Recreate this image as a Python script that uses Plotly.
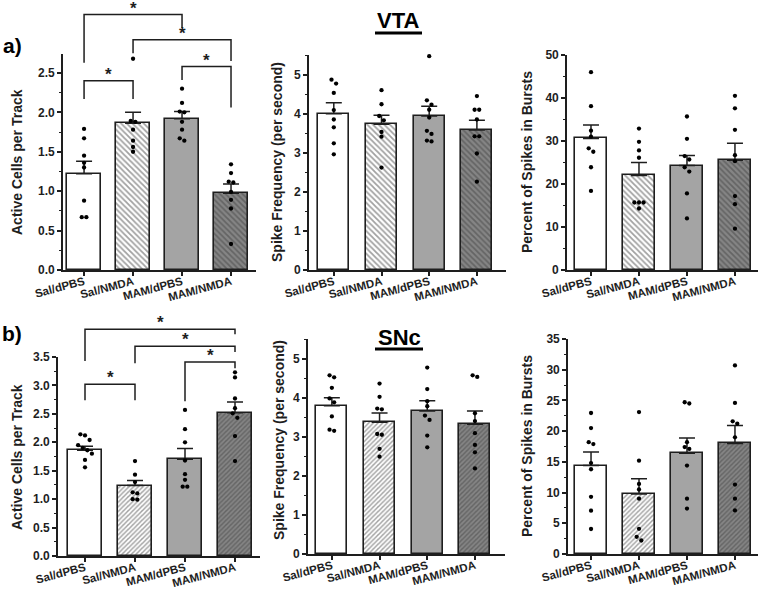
import plotly.graph_objects as go

# ---------------- data ----------------
groups = ["Sal/dPBS", "Sal/NMDA", "MAM/dPBS", "MAM/NMDA"]

# VTA
vta_cells_mean = [1.22, 1.86, 1.92, 0.975]
vta_cells_sem = [0.16, 0.14, 0.09, 0.115]
vta_cells_pts = [
    [1.79, 1.67, 1.45, 1.36, 1.30, 0.88, 0.67, 0.67],
    [2.68, 1.89, 1.88, 1.78, 1.64, 1.56, 1.50],
    [2.30, 2.12, 2.01, 2.00, 1.88, 1.78, 1.67, 1.64],
    [1.34, 1.23, 1.12, 1.11, 0.99, 0.89, 0.78, 0.33],
]
vta_freq_mean = [4.00, 3.73, 3.94, 3.58]
vta_freq_sem = [0.28, 0.23, 0.25, 0.25]
vta_freq_pts = [
    [4.87, 4.77, 4.53, 4.09, 3.85, 3.65, 3.24, 2.96],
    [4.60, 4.24, 3.94, 3.83, 3.53, 3.41, 2.62],
    [5.47, 4.34, 4.23, 4.10, 3.90, 3.56, 3.48, 3.31, 3.29],
    [4.45, 4.10, 4.10, 3.85, 3.42, 3.42, 2.98, 2.26],
]
vta_burst_mean = [30.6, 22.0, 24.3, 25.5]
vta_burst_sem = [3.1, 3.0, 2.3, 4.0]
vta_burst_pts = [
    [46.0, 38.1, 32.4, 31.0, 28.3, 27.5, 23.9, 18.4],
    [32.9, 29.8, 27.8, 26.1, 15.7, 15.7, 15.7, 14.3],
    [35.7, 30.5, 26.5, 25.7, 23.9, 22.9, 17.8, 12.0],
    [40.5, 37.6, 32.6, 26.7, 25.3, 17.2, 15.3, 9.6],
]

# SNc
snc_cells_mean = [1.86, 1.24, 1.70, 2.52]
snc_cells_sem = [0.07, 0.09, 0.19, 0.19]
snc_cells_pts = [
    [2.14, 2.12, 2.04, 1.95, 1.90, 1.86, 1.80, 1.69, 1.56],
    [1.67, 1.43, 1.30, 1.12, 1.10, 1.00, 0.99],
    [2.57, 2.23, 2.00, 1.68, 1.44, 1.34, 1.22, 1.22],
    [3.23, 3.14, 2.77, 2.60, 2.51, 2.43, 2.11, 1.67],
]
snc_freq_mean = [3.79, 3.37, 3.66, 3.32]
snc_freq_sem = [0.21, 0.24, 0.26, 0.34]
snc_freq_pts = [
    [4.57, 4.52, 4.25, 3.98, 3.88, 3.52, 3.18, 3.15],
    [4.36, 4.02, 3.72, 3.70, 3.07, 3.05, 2.69, 2.49],
    [4.77, 4.22, 3.91, 3.78, 3.54, 3.43, 3.03, 2.73],
    [4.57, 4.53, 3.60, 3.40, 3.09, 2.79, 2.60, 2.19],
]
snc_burst_mean = [14.4, 9.77, 16.4, 18.0]
snc_burst_sem = [2.2, 2.5, 2.5, 2.9]
snc_burst_pts = [
    [22.95, 20.5, 18.2, 17.9, 14.8, 13.8, 9.3, 7.05, 4.07],
    [23.1, 15.2, 11.4, 10.5, 9.0, 4.1, 2.8, 2.2],
    [24.7, 24.5, 18.2, 17.4, 17.1, 14.4, 9.0, 7.4],
    [30.7, 24.6, 21.6, 21.2, 19.0, 11.3, 9.0, 7.1],
]

# significance brackets: (group_a, group_b, bar level, left end, right end)
vta_cells_sig = [(0, 2, 3.24, 2.63, 3.07), (1, 3, 2.92, 2.75, 2.65),
                 (2, 3, 2.58, 2.41, 2.06), (0, 1, 2.40, 2.17, 2.17)]
snc_cells_sig = [(0, 3, 3.99, 3.43, 3.90), (1, 3, 3.69, 3.39, 3.59),
                 (2, 3, 3.41, 2.72, 3.30), (0, 1, 3.02, 2.74, 2.74)]

# ---------------- layout helpers ----------------
W, H = 760, 590
FONT = "Arial, Liberation Sans, sans-serif"
INK = "#1e1e1e"


def fx(px):
    return px / W


def fy(py):
    return 1 - py / H


panels = [
    dict(xpx=(63, 256), ypx=(54, 270), xr=(-0.43, 3.51), ymax=2.74, dtick=0.5, minor=0.25,
         fmt=".1f", mean=vta_cells_mean, sem=vta_cells_sem, pts=vta_cells_pts, hatch="\\",
         psize=4, title="Active Cells per Track", tpos=(17, 162), bw=0.69, sig=vta_cells_sig),
    dict(xpx=(309, 506), ypx=(55, 270), xr=(-0.52, 3.61), ymax=5.5, dtick=1, minor=0.5,
         fmt="d", mean=vta_freq_mean, sem=vta_freq_sem, pts=vta_freq_pts, hatch="\\",
         psize=4, title="Spike Frequency (per second)", tpos=(277, 162), bw=0.65, sig=[]),
    dict(xpx=(567, 758), ypx=(55, 270), xr=(-0.5, 3.48), ymax=50, dtick=10, minor=5,
         fmt="d", mean=vta_burst_mean, sem=vta_burst_sem, pts=vta_burst_pts, hatch="\\",
         psize=4, title="Percent of Spikes in Bursts", tpos=(527, 162), bw=0.65, sig=[]),
    dict(xpx=(58, 260), ypx=(357, 556), xr=(-0.54, 3.5), ymax=3.5, dtick=0.5, minor=0.25,
         fmt=".1f", mean=snc_cells_mean, sem=snc_cells_sem, pts=snc_cells_pts, hatch="/",
         psize=3.3, title="Active Cells per Track", tpos=(17, 457), bw=0.68, sig=snc_cells_sig),
    dict(xpx=(308, 505), ypx=(339, 554), xr=(-0.5, 3.63), ymax=5.5, dtick=1, minor=0.5,
         fmt="d", mean=snc_freq_mean, sem=snc_freq_sem, pts=snc_freq_pts, hatch="/",
         psize=3.3, title="Spike Frequency (per second)", tpos=(279, 440), bw=0.65, sig=[]),
    dict(xpx=(568, 758), ypx=(339, 554), xr=(-0.48, 3.48), ymax=35, dtick=5, minor=2.5,
         fmt="d", mean=snc_burst_mean, sem=snc_burst_sem, pts=snc_burst_pts, hatch="/",
         psize=3.3, title="Percent of Spikes in Bursts", tpos=(527, 446), bw=0.65, sig=[]),
]

bar_colors = ["white", "white", "#a4a4a4", "#858585"]


def swarm(values, px_per_unit, px_per_cat, gap_px=4.6):
    """Spread points with nearly equal values side by side (beeswarm)."""
    order = sorted(range(len(values)), key=lambda k: -values[k])
    offs = [0.0] * len(values)
    clusters, cur = [], [order[0]]
    for k in order[1:]:
        if abs(values[cur[-1]] - values[k]) * px_per_unit < gap_px:
            cur.append(k)
        else:
            clusters.append(cur)
            cur = [k]
    clusters.append(cur)
    step = gap_px / px_per_cat
    for c in clusters:
        n = len(c)
        for j, k in enumerate(c):
            offs[k] = (j - (n - 1) / 2) * step
    return offs


fig = go.Figure()
shapes, annotations = [], []

for n, p in enumerate(panels, start=1):
    xa = "x" if n == 1 else f"x{n}"
    ya = "y" if n == 1 else f"y{n}"
    xkey = "xaxis" if n == 1 else f"xaxis{n}"
    ykey = "yaxis" if n == 1 else f"yaxis{n}"
    x0, x1 = p["xpx"]
    ytop, ybot = p["ypx"]
    px_per_cat = (x1 - x0) / (p["xr"][1] - p["xr"][0])
    px_per_unit = (ybot - ytop) / p["ymax"]
    idx = list(range(len(groups)))

    fig.add_trace(go.Bar(
        x=idx, y=p["mean"], width=p["bw"], xaxis=xa, yaxis=ya,
        marker=dict(color=bar_colors, line=dict(color=INK, width=1.6),
                    pattern=dict(shape=["", p["hatch"], "", p["hatch"]], fgcolor="#1a1a1a",
                                 size=p["psize"], solidity=0.45, fillmode="overlay")),
        error_y=dict(type="data", array=p["sem"], arrayminus=[0] * 4, symmetric=False,
                     color=INK, thickness=1.5, width=8),
        showlegend=False, hoverinfo="skip",
    ))
    xs, ys = [], []
    for i, vals in enumerate(p["pts"]):
        offs = swarm(vals, px_per_unit, px_per_cat)
        xs += [i + o for o in offs]
        ys += vals
    fig.add_trace(go.Scatter(
        x=xs, y=ys, mode="markers", xaxis=xa, yaxis=ya, cliponaxis=False,
        marker=dict(color="black", size=4.3), showlegend=False, hoverinfo="skip",
    ))

    axis_common = dict(showline=True, linecolor=INK, linewidth=1.6, ticks="outside",
                       tickwidth=1.5, tickcolor=INK, showgrid=False, zeroline=False,
                       automargin=False)
    fig.update_layout({
        xkey: dict(domain=[fx(x0), fx(x1)], anchor=ya, range=list(p["xr"]),
                   tickmode="array", tickvals=idx, ticktext=groups, tickangle=-15,
                   ticklen=4, ticklabelstandoff=-5,
                   tickfont=dict(family=FONT, size=11.5, color=INK, weight="bold"),
                   **axis_common),
        ykey: dict(domain=[fy(ybot), fy(ytop)], anchor=xa, range=[0, p["ymax"]],
                   tick0=0, dtick=p["dtick"], tickformat=p["fmt"], ticklen=4,
                   tickfont=dict(family=FONT, size=12, color=INK, weight="bold"),
                   minor=dict(dtick=p["minor"], ticks="outside", ticklen=2.5,
                              tickwidth=1.2, tickcolor=INK),
                   **axis_common),
    })

    annotations.append(dict(
        text=p["title"], x=fx(p["tpos"][0]), y=fy(p["tpos"][1]), xref="paper", yref="paper",
        textangle=-90, showarrow=False, xanchor="center", yanchor="middle",
        font=dict(family=FONT, size=14, color=INK, weight="bold")))

    # significance brackets (drawn outside plot area -> domain refs, unclipped)
    xspan = p["xr"][1] - p["xr"][0]
    for (a, b, lvl, ea, eb) in p["sig"]:
        xa_d = (a - p["xr"][0]) / xspan
        xb_d = (b - p["xr"][0]) / xspan
        path = (f"M {xa_d},{ea / p['ymax']} L {xa_d},{lvl / p['ymax']} "
                f"L {xb_d},{lvl / p['ymax']} L {xb_d},{eb / p['ymax']}")
        shapes.append(dict(type="path", path=path, xref=f"{xa} domain", yref=f"{ya} domain",
                           line=dict(color=INK, width=1.5)))
        annotations.append(dict(
            text="*", x=(xa_d + xb_d) / 2, y=lvl / p["ymax"], xref=f"{xa} domain",
            yref=f"{ya} domain", showarrow=False, xanchor="center", yanchor="bottom",
            yshift=-5, font=dict(family=FONT, size=17, color=INK, weight="bold")))

# region titles and panel letters
for txt, cx, cy, x_l, x_r, uy in [("VTA", 398, 21, 375, 422, 33), ("SNc", 399, 337, 375, 423, 349)]:
    annotations.append(dict(text=txt, x=fx(cx), y=fy(cy), xref="paper", yref="paper",
                            showarrow=False, xanchor="center", yanchor="middle",
                            font=dict(family=FONT, size=22, color="black", weight="bold")))
    shapes.append(dict(type="line", xref="paper", yref="paper", x0=fx(x_l), x1=fx(x_r),
                       y0=fy(uy), y1=fy(uy), line=dict(color="black", width=3)))
for txt, cx, cy in [("a)", 12, 45), ("b)", 12, 333)]:
    annotations.append(dict(text=txt, x=fx(cx), y=fy(cy), xref="paper", yref="paper",
                            showarrow=False, xanchor="center", yanchor="middle",
                            font=dict(family=FONT, size=21, color="black", weight="bold")))

fig.update_layout(
    template="none",
    width=W, height=H, margin=dict(l=0, r=0, t=0, b=0, autoexpand=False),
    paper_bgcolor="white", plot_bgcolor="white",
    shapes=shapes, annotations=annotations, bargap=0,
    font=dict(family=FONT, color=INK),
)

fig.write_html(
    "out.html",
    config={"displayModeBar": False},
    post_script="document.body.style.margin='0';document.body.style.padding='0';"
                "document.body.style.overflow='hidden';",
)
